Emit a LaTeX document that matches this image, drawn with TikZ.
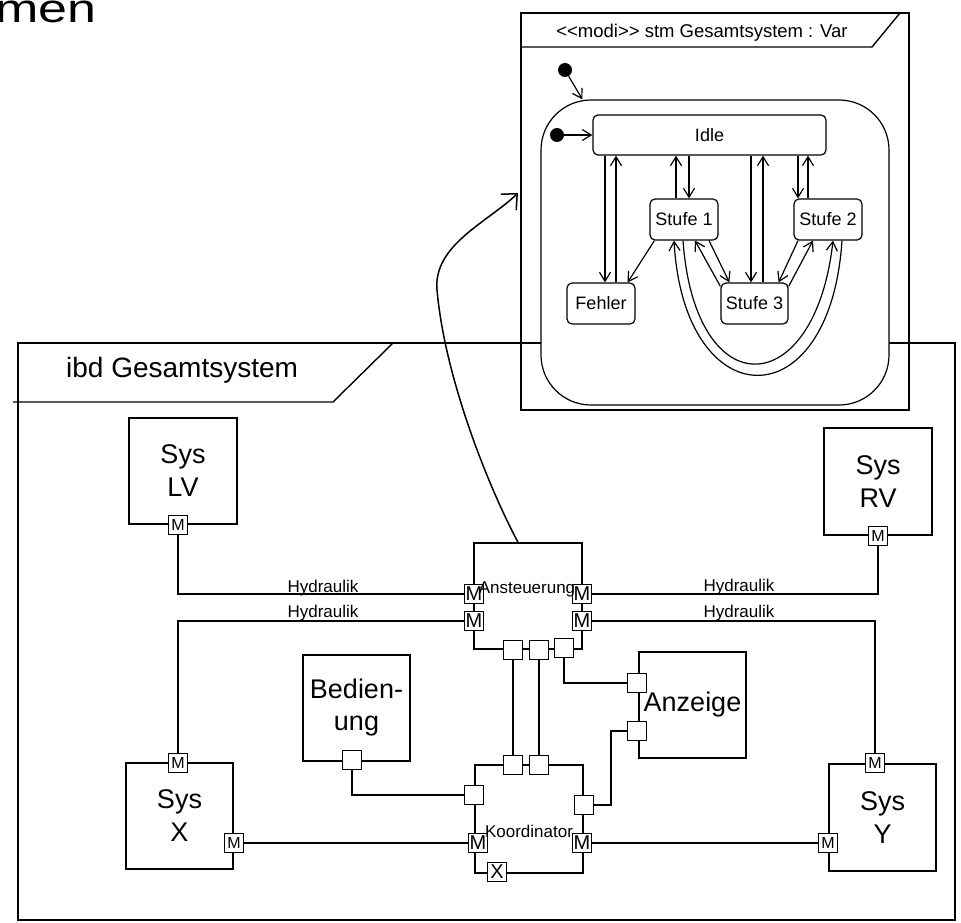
\documentclass[tikz,border=0pt]{standalone}
\usepackage{fontspec}
\setmainfont{Liberation Sans}
\usetikzlibrary{arrows.meta}
\newcommand{\pxfont}[2]{\fontsize{#1pt}{#2pt}\selectfont}

\begin{document}
\begin{tikzpicture}[x=1pt, y=-1pt,
  frameline/.style={line width=1.4pt},
  blk/.style={draw, line width=1.5pt, fill=white, inner sep=0pt, align=center, font=\pxfont{27}{33}},
  sport/.style={draw, line width=1.3pt, fill=white, minimum size=18.5pt, inner sep=0pt, font=\pxfont{16}{16}},
  bport/.style={draw, line width=1.3pt, fill=white, minimum size=18.5pt, inner sep=0pt, font=\pxfont{20}{20}},
  conn/.style={line width=1.5pt},
  lbl/.style={anchor=base, inner sep=0pt, font=\pxfont{17}{17}},
  state/.style={draw, line width=1.2pt, fill=white, rounded corners=5pt, inner sep=0pt, font=\pxfont{18}{18}},
  trans/.style={line width=1.2pt, -{Straight Barb[length=9pt,width=11pt]}},
  initdot/.style={circle, fill=black, minimum size=14pt, inner sep=0pt},
]
\useasboundingbox (0,0) rectangle (961,923);

% heading fragment
\node[anchor=base east, inner sep=0pt, font=\pxfont{40}{40}] (heading) at (97,23) {\scalebox{1.3}[1]{men}};

% ---------- ibd frame ----------
\draw[frameline] (18,343) rectangle (955,920);
\draw[frameline] (13,402) -- (333,402) -- (393,343);
\node[anchor=base west, inner sep=0pt, font=\pxfont{28}{28}] (ibdtitle) at (66,377) {ibd Gesamtsystem};

% ---------- stm frame ----------
\draw[frameline] (521,13) rectangle (909,410);
\draw[frameline] (521,47) -- (872,47) -- (900,13);
\node[anchor=base, inner sep=0pt, font=\pxfont{18.5}{18.5}] (stmtitle) at (702,38)
  {<\kern0pt<modi>\kern0pt> stm Gesamtsystem : Var};
\coordinate (stmentry) at (518,193);

\node[draw, line width=1.2pt, fill=white, rounded corners=50pt, minimum width=348pt,
      minimum height=305pt, inner sep=0pt] (super) at (715,252.5) {};

\node[initdot] (i1) at (565,70) {};
\node[initdot] (i2) at (557,135) {};

\node[state, minimum width=233pt, minimum height=40pt] (idle) at (709.5,135) {Idle};
\node[state, minimum width=68pt, minimum height=41pt] (s1) at (684,219.5) {Stufe 1};
\node[state, minimum width=68pt, minimum height=41pt] (s2) at (828,219.5) {Stufe 2};
\node[state, minimum width=68pt, minimum height=41pt] (fe) at (601,303.5) {Fehler};
\node[state, minimum width=67pt, minimum height=41pt] (s3) at (754.5,303.5) {Stufe 3};

\draw[trans] (i1) -- ([xshift=42pt]super.north west);
\draw[trans] (i2) -- (idle.west);

% vertical transitions to and from Idle
\draw[trans] ([xshift=-104.5pt]idle.south) -- ([xshift=4pt]fe.north);
\draw[trans] ([xshift=15pt]fe.north) -- ([xshift=-93.5pt]idle.south);
\draw[trans] ([xshift=-8pt]s1.north) -- ([xshift=-33.5pt]idle.south);
\draw[trans] ([xshift=-20.5pt]idle.south) -- ([xshift=5pt]s1.north);
\draw[trans] ([xshift=41.5pt]idle.south) -- ([xshift=-3.5pt]s3.north);
\draw[trans] ([xshift=8.5pt]s3.north) -- ([xshift=53.5pt]idle.south);
\draw[trans] ([xshift=88.5pt]idle.south) -- ([xshift=-30pt]s2.north);
\draw[trans] ([xshift=-20pt]s2.north) -- ([xshift=98.5pt]idle.south);

% diagonal transitions
\draw[trans] ([xshift=5pt]s1.south west) -- ([xshift=-8pt]fe.north east);
\draw[trans] ([yshift=-4pt]s3.north west) -- ([xshift=11pt]s1.south);
\draw[trans] ([xshift=25pt]s1.south) -- ([xshift=9pt]s3.north west);
\draw[trans] ([xshift=-30pt]s2.south) -- ([xshift=-10pt]s3.north east);
\draw[trans] ([yshift=-4pt]s3.north east) -- ([xshift=-15pt]s2.south);

% long transitions below Stufe 3
\draw[trans] ([xshift=-1pt]s1.south) .. controls (695,408) and (815,402) .. ([xshift=5pt]s2.south);
\draw[trans] ([xshift=14pt]s2.south) .. controls (830,422) and (684,418) .. ([xshift=-10pt]s1.south);

% ---------- blocks ----------
\node[blk, minimum width=108pt, minimum height=106pt] (lv) at (183,471) {Sys\\LV};
\node[blk, minimum width=108pt, minimum height=107pt] (rv) at (878,481.5) {Sys\\RV};
\node[blk, minimum width=108pt, minimum height=106pt] (an) at (528,596) {};
\node[blk, minimum width=108pt, minimum height=108pt] (ko) at (529,819) {};
\node[blk, minimum width=107pt, minimum height=106pt] (az) at (692.5,705) {Anzeige};
\node[blk, minimum width=107pt, minimum height=106pt, font=\pxfont{27}{32}] (bd) at (356.5,708) {Bedien-\\ung};
\node[blk, minimum width=107pt, minimum height=106pt] (sx) at (179.5,816) {Sys\\X};
\node[blk, minimum width=107pt, minimum height=107pt] (sy) at (882.5,817.5) {Sys\\Y};

% ports
\node[sport] (lvM) at (178,525) {M};
\node[sport] (rvM) at (878,536) {M};
\node[sport] (sxM1) at (178,763) {M};
\node[sport] (sxM2) at (234,843) {M};
\node[sport] (syM1) at (875,763) {M};
\node[sport] (syM2) at (828,843) {M};

\node[bport] (anM1) at (474,594) {M};
\node[bport] (anM2) at (474,621) {M};
\node[bport] (anM3) at (582,594) {M};
\node[bport] (anM4) at (582,621) {M};
\node[bport] (anB1) at (513,650) {};
\node[bport] (anB2) at (539,650) {};
\node[bport] (anB3) at (564,648) {};

\node[bport] (koT1) at (513,765) {};
\node[bport] (koT2) at (539,765) {};
\node[bport] (koL) at (474,795) {};
\node[bport] (koR) at (584,805) {};
\node[bport] (koM1) at (478,843) {M};
\node[bport] (koM2) at (582,843) {M};
\node[bport] (koX) at (497,872) {X};

\node[bport] (azP1) at (637,683) {};
\node[bport] (azP2) at (637,731) {};
\node[bport] (bdP) at (352,760) {};

\node[anchor=base, inner sep=0pt, font=\pxfont{17}{17}] (antext) at (527,593) {Ansteuerung};
\node[anchor=base, inner sep=0pt, font=\pxfont{17}{17}] (kotext) at (529,837) {Koordinator};

% ---------- connectors ----------
\draw[conn] (lvM.south) |- (anM1.west);
\draw[conn] (sxM1.north) |- (anM2.west);
\draw[conn] (anM3.east) -| (rvM.south);
\draw[conn] (anM4.east) -| (syM1.north);
\draw[conn] (anB1.south) -- (koT1.north);
\draw[conn] (anB2.south) -- (koT2.north);
\draw[conn] (anB3.south) |- (azP1.west);
\draw[conn] (koR.east) -- ++(17,0) |- (azP2.west);
\draw[conn] (bdP.south) |- (koL.west);
\draw[conn] (sxM2.east) -- (koM1.west);
\draw[conn] (koM2.east) -- (syM2.west);

\node[lbl] (h1) at (323,592) {Hydraulik};
\node[lbl] (h2) at (323,617) {Hydraulik};
\node[lbl] (h3) at (739,591) {Hydraulik};
\node[lbl] (h4) at (739,617) {Hydraulik};

% refinement link from Ansteuerung to its state machine
\draw[line width=1.5pt, -{Straight Barb[length=12pt,width=22pt]}]
  ([xshift=-10pt]an.north) .. controls (490,490) and (445,380) .. (437,290)
  .. controls (433,245) and (488,222) .. (stmentry);
\end{tikzpicture}
\end{document}
